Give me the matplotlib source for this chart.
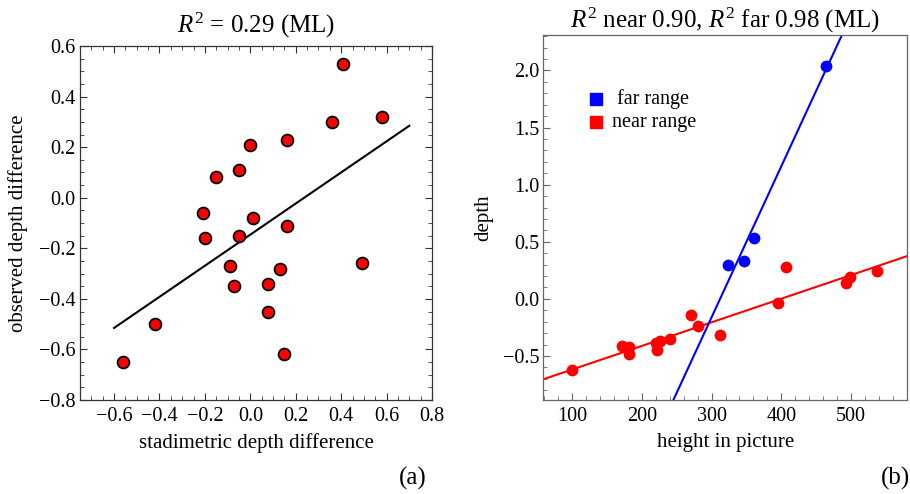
import numpy as np
import matplotlib
matplotlib.use("Agg")
import matplotlib.pyplot as plt
from matplotlib.ticker import MultipleLocator, AutoMinorLocator

plt.rcParams['font.family'] = ['Liberation Serif', 'DejaVu Serif']
plt.rcParams['mathtext.fontset'] = 'custom'
plt.rcParams['mathtext.rm'] = 'Liberation Serif'
plt.rcParams['mathtext.it'] = 'Liberation Serif:italic'
plt.rcParams['axes.unicode_minus'] = True

# ---- panel (a) data ----
stad_x = [-0.56, -0.42, -0.21, -0.20, -0.15, -0.05, 0.00, 0.01, -0.05, -0.09, -0.07,
          0.08, 0.08, 0.13, 0.15, 0.16, 0.16, 0.36, 0.41, 0.58, 0.49]
obs_y = [-0.65, -0.50, -0.06, -0.16, 0.08, 0.11, 0.21, -0.08, -0.15, -0.27, -0.35,
         -0.34, -0.45, -0.28, -0.62, -0.11, 0.23, 0.30, 0.53, 0.32, -0.26]
fit_a_slope = 0.615
fit_a_intercept = -0.146
fit_a_range = [-0.6, 0.7]

# ---- panel (b) data ----
near_x = [100, 172, 181, 182, 220, 226, 221, 240, 270, 281, 312, 395, 407, 493, 499, 537]
near_y = [-0.62, -0.41, -0.42, -0.48, -0.39, -0.37, -0.45, -0.35, -0.14, -0.24, -0.32,
          -0.04, 0.28, 0.14, 0.19, 0.24]
far_x = [324, 346, 361, 464]
far_y = [0.30, 0.33, 0.53, 2.04]
near_slope, near_intercept = 0.002064, -0.824
far_slope, far_intercept = 0.0132, -4.12

W, H = 910, 494
fig = plt.figure(figsize=(W / 100, H / 100), dpi=100)

tick_fs = 14.5
label_fs = 15
title_fs = 18

def fmt(v, p):
    return f"{v:.1f}".replace('-', '\u2212')

def style(ax, col, ticks_all=True):
    for s in ax.spines.values():
        s.set_color(col)
        s.set_linewidth(0.9)
    ax.tick_params(which='both', direction='in', color=col,
                   top=ticks_all, right=ticks_all, labelsize=tick_fs)
    ax.tick_params(axis='x', which='major', pad=5)
    ax.tick_params(axis='y', which='major', pad=3)
    ax.tick_params(which='major', length=5, width=0.8)
    ax.tick_params(which='minor', length=3, width=0.6)

# panel (a)
axa = fig.add_axes([80 / W, 1 - 400 / H, 352 / W, 354 / H])
axa.set_xlim(-0.75, 0.8)
axa.set_ylim(-0.8, 0.6)
xs = np.array(fit_a_range)
axa.plot(xs, fit_a_slope * xs + fit_a_intercept, color='black', lw=1.5)
axa.plot(stad_x, obs_y, 'o', ms=8.5, mfc='#ff0000', mec='black', mew=1.3)
axa.xaxis.set_major_locator(MultipleLocator(0.2))
axa.yaxis.set_major_locator(MultipleLocator(0.2))
axa.xaxis.set_minor_locator(AutoMinorLocator(4))
axa.yaxis.set_minor_locator(AutoMinorLocator(4))
axa.xaxis.set_major_formatter(plt.FuncFormatter(fmt))
axa.yaxis.set_major_formatter(plt.FuncFormatter(fmt))
style(axa, '#333333', True)
axa.set_xlabel('stadimetric depth difference', fontsize=label_fs, labelpad=5)
axa.set_ylabel('observed depth difference', fontsize=label_fs, labelpad=8)
axa.set_title(r'$R^2$ = 0.29 (ML)', fontsize=title_fs, pad=10)

# panel (b)
axb = fig.add_axes([543.3 / W, 1 - 400 / H, 364 / W, 365 / H])
axb.set_xlim(58.3, 581)
axb.set_ylim(-0.885, 2.31)
xl = np.array([0, 700])
axb.plot(xl, near_slope * xl + near_intercept, color='#ff0000', lw=1.5)
axb.plot(xl, far_slope * xl + far_intercept, color='#0000ff', lw=1.5)
axb.plot(near_x, near_y, 'o', ms=8.5, color='#ff0000', mew=0)
axb.plot(far_x, far_y, 'o', ms=8.5, color='#0000ff', mew=0)
axb.xaxis.set_major_locator(MultipleLocator(100))
axb.yaxis.set_major_locator(MultipleLocator(0.5))
axb.xaxis.set_minor_locator(AutoMinorLocator(5))
axb.yaxis.set_minor_locator(AutoMinorLocator(5))
axb.yaxis.set_major_formatter(plt.FuncFormatter(fmt))
style(axb, '#666666', False)
axb.set_xlabel('height in picture', fontsize=label_fs, labelpad=5)
axb.set_ylabel('depth', fontsize=label_fs, labelpad=7)
axb.set_title(r'$R^2$ near 0.90, $R^2$ far 0.98 (ML)', fontsize=title_fs, pad=5)

h1 = axb.scatter([], [], marker='s', s=75, color='#0000ff')
h2 = axb.scatter([], [], marker='s', s=75, color='#ff0000')
axb.legend([h1, h2], [' far range', 'near range'], loc='upper left',
           bbox_to_anchor=((588 - 543.3) / 364, (400 - 89) / 365),
           frameon=False, fontsize=14.5, handlelength=0.8, handletextpad=0.4,
           labelspacing=0.22, borderpad=0, borderaxespad=0)

fig.text(413 / W, 1 - 478 / H, '(a)', fontsize=18, ha='center', va='center')
fig.text(895 / W, 1 - 478 / H, '(b)', fontsize=18, ha='center', va='center')

fig.savefig('out.png', dpi=100)
